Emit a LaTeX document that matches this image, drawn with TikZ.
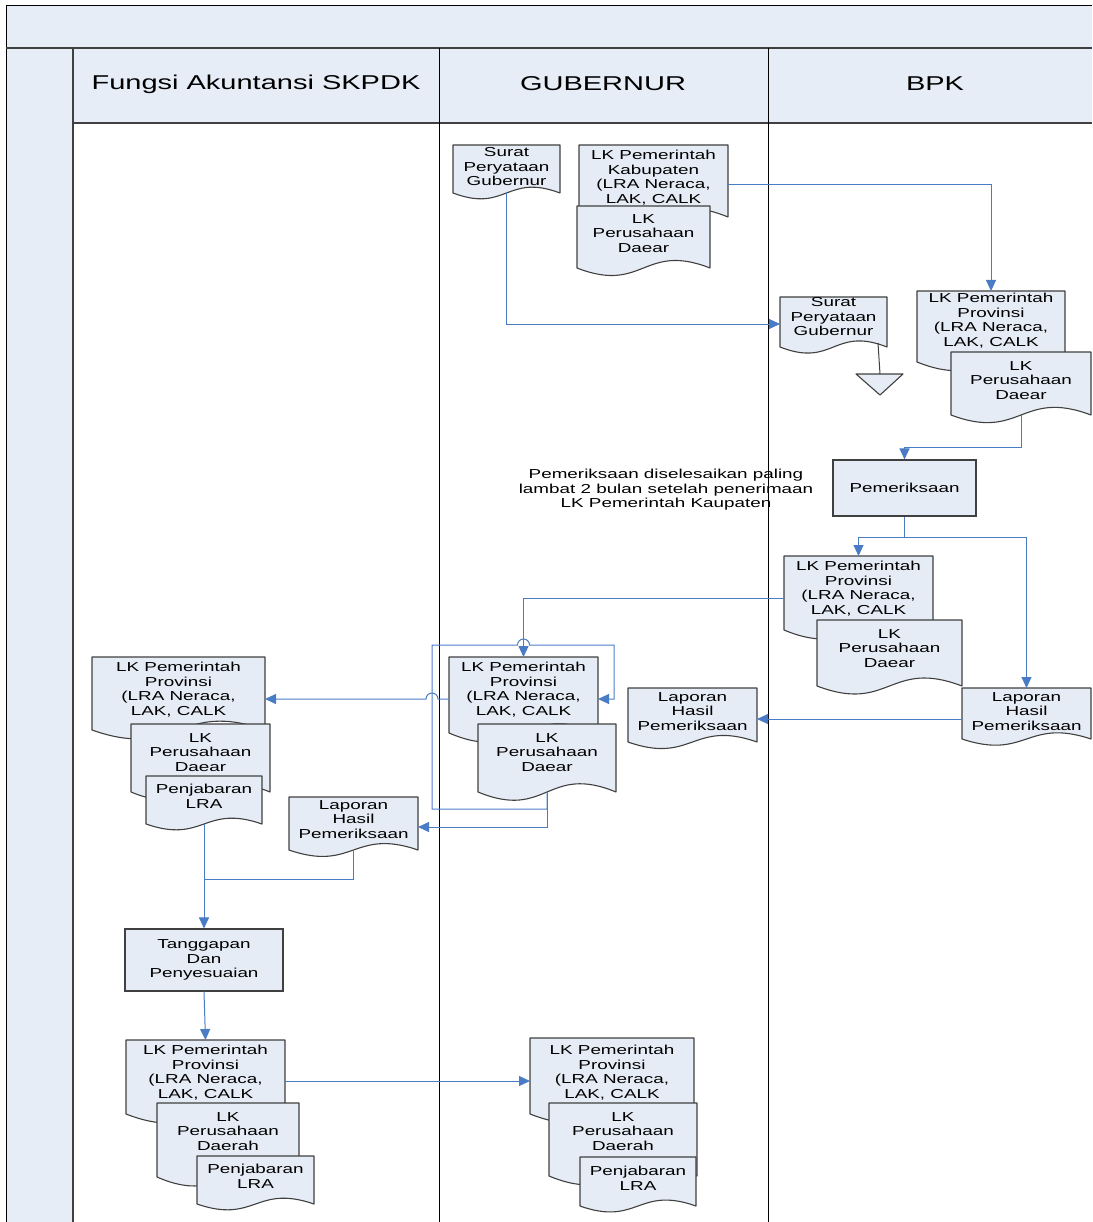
\documentclass[tikz,border=0pt]{standalone}
\usepackage{fontspec}
\setmainfont[FakeStretch=1.45]{Liberation Sans}
\usetikzlibrary{arrows.meta,calc}
\definecolor{lanefill}{HTML}{E7EDF7}
\definecolor{docfill}{HTML}{E6ECF6}
\definecolor{conn}{HTML}{4A7CC6}
\definecolor{edge}{HTML}{404040}
\tikzset{
  docstyle/.style={fill=docfill,draw=edge,line width=1.1pt,line join=round},
  boxnode/.style={draw=none,inner sep=0pt,outer sep=0pt,rectangle},
  doctext/.style={anchor=north,inner sep=0pt,align=center,font=\fontsize{13}{14.5}\selectfont},
  procbox/.style={fill=docfill,draw=edge,line width=1.1pt,inner sep=0pt,align=center,font=\fontsize{13}{14.5}\selectfont},
  lanelabel/.style={inner sep=0pt,font=\fontsize{20}{24}\selectfont},
  conn/.style={draw=conn,line width=1pt,-{Triangle[length=11pt,width=10pt]}},
  connl/.style={draw=conn,line width=1pt},
  frameline/.style={draw=black,line width=1pt},
}
\newcommand\docshape[7]{%
  \pgfmathsetmacro\xc{(#2+#3)/2}%
  \pgfmathsetmacro\am{0.42*(#5-#4)}%
  \path[docstyle] (#2,#4) -- (#3,#4) -- (#3,#5) .. controls (\xc,#5-\am) and (\xc,#5+\am) .. (#2,#5) -- cycle;
  \node[boxnode,minimum width={#3-#2},minimum height={#5-#4}] (#1) at (\xc,{(#4+#5)/2}) {};
  \node[doctext] (#1-t) at (\xc,#6-4.7) {#7};
}
\begin{document}
\begin{tikzpicture}[x=1pt,y=-1pt]
\useasboundingbox (0,0) rectangle (1092,1222);
% frame
\fill[lanefill] (6,6) rectangle (1092,48);
\fill[lanefill] (6,48) rectangle (73,1222);
\fill[lanefill] (73,48) rectangle (1092,123);
\draw[frameline] (1092,6) -- (6,6) -- (6,1222);
\draw[draw=edge,line width=1.5pt] (6,48) -- (1092,48);
\draw[draw=edge,line width=1.2pt] (73,123) -- (1092,123);
\draw[draw=edge,line width=2pt] (73,48) -- (73,1222);
\draw[frameline] (439,48) -- (439,1222);
\draw[frameline] (768,48) -- (768,1222);
\node[lanelabel] (l1) at (256,84) {Fungsi Akuntansi SKPDK};
\node[lanelabel] (l2) at (603,84) {GUBERNUR};
\node[lanelabel] (l3) at (935,84) {BPK};

% GUBERNUR top
\docshape{surat1}{453}{560}{145}{193}{152}{Surat\\Peryataan\\Gubernur}
\docshape{lkkab}{579}{728}{145}{217}{155}{LK Pemerintah\\Kabupaten\\(LRA Neraca,\\LAK, CALK}
\docshape{lkpd1}{577}{710}{206}{268}{219}{LK\\Perusahaan\\Daear}

% BPK
\docshape{surat2}{780}{887}{297}{347}{302}{Surat\\Peryataan\\Gubernur}
\path[fill=docfill,draw=edge,line width=1.1pt,line join=round] (856,374) -- (903,374) -- (880,395) -- cycle;
\coordinate (tri) at (880,374);
\coordinate (s2out) at (878,343);
\draw[draw=edge,line width=1pt] (s2out) -- (tri);
\docshape{lkprov1}{917}{1065}{291}{362}{298}{LK Pemerintah\\Provinsi\\(LRA Neraca,\\LAK, CALK}
\docshape{lkpd2}{951}{1091}{352}{415}{366}{LK\\Perusahaan\\Daear}
\node[procbox,minimum width=143,minimum height=56] (pem) at (904.5,488) {Pemeriksaan};
\node[inner sep=0pt,align=center,font=\fontsize{13}{14.5}\selectfont] (note) at (666,490)
  {Pemeriksaan diselesaikan paling\\lambat 2 bulan setelah penerimaan\\LK Pemerintah Kaupaten};
\docshape{lkprov2}{784}{933}{556}{630}{566}{LK Pemerintah\\Provinsi\\(LRA Neraca,\\LAK, CALK}
\docshape{lkpd3}{817}{962}{620}{686}{634}{LK\\Perusahaan\\Daear}
\docshape{lhp1}{962}{1091}{688}{739}{697}{Laporan\\Hasil\\Pemeriksaan}

% GUBERNUR middle
\docshape{lhp2}{628}{757}{688}{742}{697}{Laporan\\Hasil\\Pemeriksaan}
\docshape{lkprov3}{449}{598}{657}{733}{667}{LK Pemerintah\\Provinsi\\(LRA Neraca,\\LAK, CALK}
\docshape{lkpd4}{478}{616}{724}{792}{738}{LK\\Perusahaan\\Daear}

% Fungsi left
\docshape{lkprov4}{92}{265}{657}{730}{667}{LK Pemerintah\\Provinsi\\(LRA Neraca,\\LAK, CALK}
\docshape{lkpd5}{131}{270}{724}{792}{738}{LK\\Perusahaan\\Daear}
\docshape{penj1}{146}{262}{776}{824}{789}{Penjabaran\\LRA}
\docshape{lhp3}{289}{418}{797}{850}{805}{Laporan\\Hasil\\Pemeriksaan}
\node[procbox,minimum width=158,minimum height=62] (tang) at (204,960) {Tanggapan\\Dan\\Penyesuaian};

% bottom
\docshape{lkprov5}{126}{285}{1040}{1114}{1050}{LK Pemerintah\\Provinsi\\(LRA Neraca,\\LAK, CALK}
\docshape{lkpd6}{157}{299}{1103}{1177}{1117}{LK\\Perusahaan\\Daerah}
\docshape{penj2}{197}{314}{1156}{1204}{1169}{Penjabaran\\LRA}
\docshape{lkprov6}{530}{694}{1038}{1114}{1050}{LK Pemerintah\\Provinsi\\(LRA Neraca,\\LAK, CALK}
\docshape{lkpd7}{549}{697}{1103}{1176}{1117}{LK\\Perusahaan\\Daerah}
\docshape{penj3}{580}{696}{1157}{1206}{1171}{Penjabaran\\LRA}

% connectors
\draw[conn] (lkkab.east |- 0,185) -| (lkprov1.north);
\draw[conn] (surat1.south) |- (surat2.west |- 0,324);
\draw[conn] (lkpd2.south) -- (lkpd2.south |- 0,447) -| (pem.north);
\draw[conn] (pem.south) -- (pem.south |- 0,537) -| (lkprov2.north);
\draw[conn] (pem.south |- 0,537) -| (lhp1.north);
\draw[conn] (lhp1.west |- 0,719) -- (lhp2.east |- 0,719);
\draw[conn] (lkprov2.west |- 0,598) -| (lkprov3.north);
\draw[conn] (lkpd4.south) -- (lkpd4.south |- 0,809) -- (432,809) -- (432,645) -- (517.5,645)
   arc (180:360:6) -- (614,645) -- (614,699) -- (lkprov3.east |- 0,699);
\draw[conn] (lkpd4.south) -- (lkpd4.south |- 0,827) -- (lhp3.east |- 0,827);
\draw[conn] (lkprov3.west |- 0,699) -- (438,699) arc (0:-180:6) -- (lkprov4.east |- 0,699);
\draw[conn] (penj1.south) -- (tang.north);
\draw[connl] (lhp3.south) |- (penj1.south |- 0,879);
\draw[conn] (tang.south) -- (lkprov5.north);
\draw[conn] (lkprov5.east |- 0,1081) -- (lkprov6.west |- 0,1081);
\end{tikzpicture}
\end{document}
